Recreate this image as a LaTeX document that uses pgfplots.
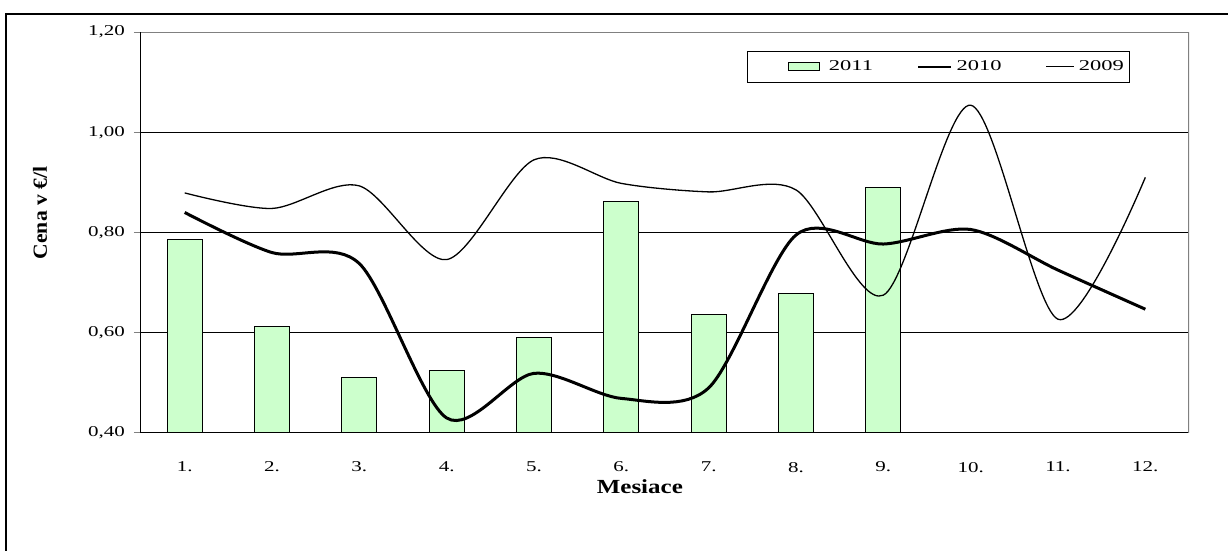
\documentclass[border=0pt]{standalone}
\usepackage{pgfplots}
\pgfplotsset{compat=1.18}
\usepackage{fontspec}
\setmainfont{Liberation Serif}
\newfontfamily\tickfont[FakeStretch=1.4]{Liberation Serif}
\newfontfamily\legfont[FakeStretch=1.5]{Liberation Serif}
\newfontfamily\labfont[FakeStretch=1.25]{Liberation Serif}
\newfontfamily\ylabfont[FakeStretch=1.08]{Liberation Serif}
\definecolor{barfill}{RGB}{204,255,204}
\definecolor{frame}{RGB}{128,128,128}

\begin{document}
\begin{tikzpicture}
\begin{axis}[
  at={(70.5pt,59pt)}, anchor=south west,
  scale only axis, width=524pt, height=200.5pt,
  xmin=0.5, xmax=12.5, ymin=0.4, ymax=1.2,
  axis x line*=bottom, axis y line*=left,
  axis line style={black, line width=0.5pt},
  xtick={1,...,12},
  xticklabels={1.,2.,3.,4.,5.,6.,7.,8.,9.,10.,11.,12.},
  xtick style={draw=none},
  minor xtick={0.5,1.5,...,12.5},
  minor x tick style={black, line width=0.4pt},
  minor tick length=2.5pt,
  ytick={0.4,0.6,0.8,1.0,1.2},
  yticklabels={{0,40},{0,60},{0,80},{1,00},{1,20}},
  ytick style={frame, line width=0.5pt},
  major tick length=3.5pt,
  tick align=outside,
  ymajorgrids,
  major grid style={black, line width=0.5pt},
  tick label style={font=\tickfont\fontsize{7.5}{9}\selectfont},
  yticklabel style={xshift=-1pt},
  xticklabel style={yshift=-7.5pt},
  xlabel={\labfont\bfseries Mesiace},
  xlabel style={at={(axis description cs:0.476,0)}, anchor=center, yshift=-27pt, font=\fontsize{10}{12}\selectfont},
  legend columns=3,
  legend style={at={(axis description cs:0.944,0.953)}, anchor=north east,
    draw=black, line width=0.5pt, fill=white,
    font=\legfont\fontsize{7.5}{9}\selectfont,
    inner xsep=1pt, inner ysep=2.5pt,
    /tikz/every odd column/.append style={column sep=0pt},
    /tikz/every even column/.append style={column sep=20pt}},
]
% monthly prices, 2011 (Jan--Sep)
\addplot[ybar, bar width=17.5pt, fill=barfill, draw=black, line width=0.5pt,
  legend image code/.code={\path (0pt,0pt); \draw[fill=barfill, draw=black, line width=0.5pt] (19pt,-2pt) rectangle (34.5pt,2pt); \path (37pt,0pt);}]
  coordinates {(1,0.787) (2,0.612) (3,0.510) (4,0.524) (5,0.591) (6,0.861) (7,0.637) (8,0.678) (9,0.889)};
\addlegendentry{2011}
% 2010
\addplot[black, line width=1.5pt, smooth, tension=0.5, no marks,
  legend image code/.code={\draw[black, line width=1.3pt] (0pt,0pt) -- (16.5pt,0pt);}]
  coordinates {(1,0.840) (2,0.760) (3,0.738) (4,0.430) (5,0.519) (6,0.469) (7,0.490) (8,0.795) (9,0.777) (10,0.806) (11,0.725) (12,0.647)};
\addlegendentry{2010}
% 2009
\addplot[black, line width=0.65pt, smooth, tension=0.5, no marks,
  legend image code/.code={\draw[black, line width=0.6pt] (0pt,0pt) -- (14pt,0pt);}]
  coordinates {(1,0.879) (2,0.848) (3,0.893) (4,0.746) (5,0.945) (6,0.898) (7,0.881) (8,0.885) (9,0.675) (10,1.054) (11,0.627) (12,0.910)};
\addlegendentry{2009}
% top and right border of the plot area
\draw[frame, line width=0.8pt] (rel axis cs:0,1) -- (rel axis cs:1,1) -- (rel axis cs:1,0);
\end{axis}
% y axis title
\node[rotate=90, anchor=center, font=\ylabfont\bfseries\fontsize{10}{12}\selectfont] at (20pt,169pt) {Cena v €/l};
% page frame
\draw[black, line width=1pt] (3pt,-2pt) -- (3pt,268.5pt) -- (616pt,268.5pt);
\pgfresetboundingbox
\useasboundingbox (0,0) rectangle (614pt,275.5pt);
\end{tikzpicture}
\end{document}
